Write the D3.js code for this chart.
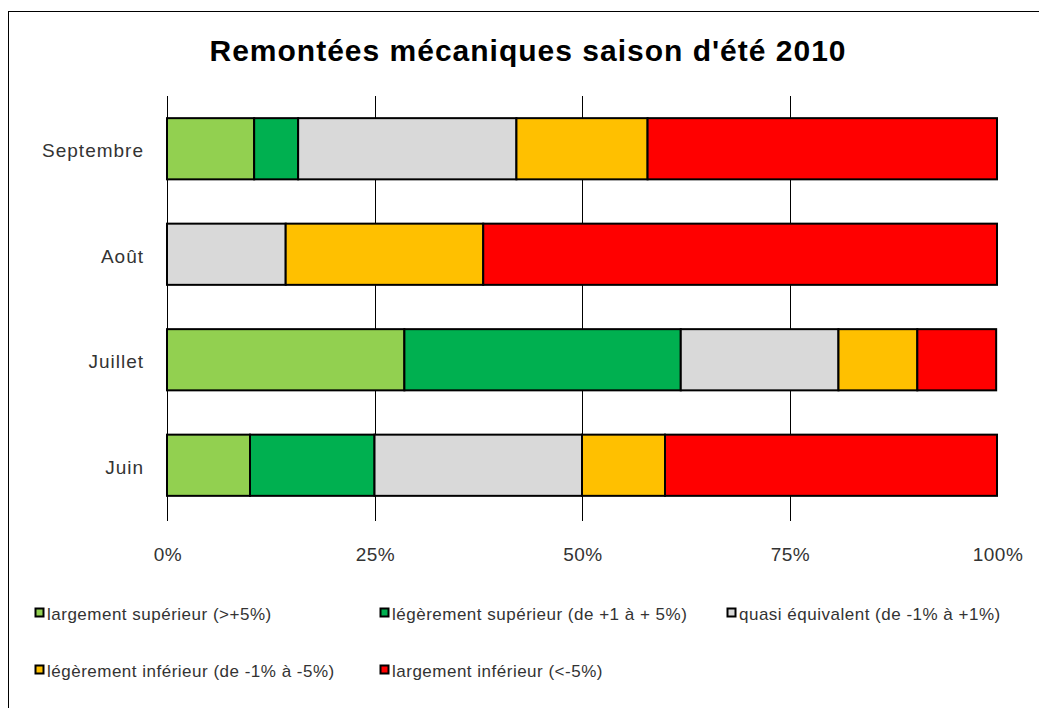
<!DOCTYPE html>
<html>
<head>
<meta charset="utf-8">
<script src="https://cdn.jsdelivr.net/npm/d3@7"></script>
<style>
  body { margin: 0; background: #fff; }
  svg { display: block; font-family: "Liberation Sans", Arial, sans-serif; }
</style>
</head>
<body>
<svg width="1039" height="708"></svg>
<script>
// months, top to bottom
const months = ["Septembre", "Août", "Juillet", "Juin"];
const categories = [
  "largement supérieur (>+5%)",
  "légèrement supérieur (de +1 à + 5%)",
  "quasi équivalent (de -1% à +1%)",
  "légèrement inférieur (de -1% à -5%)",
  "largement inférieur (<-5%)"
];
// share of lifts per category (%), same order as categories
const septembre = [10.5, 5.3, 26.3, 15.8, 42.1];
const aout = [0, 0, 14.3, 23.8, 61.9];
const juillet = [28.6, 33.3, 19.0, 9.5, 9.5];
const juin = [10, 15, 25, 10, 40];
const tickValues = [0, 25, 50, 75, 100];
const colors = ["#92d050", "#00b050", "#d9d9d9", "#ffc000", "#ff0000"];

const rows = [septembre, aout, juillet, juin].map((vals, i) => {
  const r = { month: months[i] };
  categories.forEach((c, j) => r[c] = vals[j]);
  return r;
});

const svg = d3.select("svg");

// outer frame (right/bottom cut off like the original screenshot)
svg.append("rect")
  .attr("x", 8.5).attr("y", 11.5)
  .attr("width", 1100).attr("height", 800)
  .attr("fill", "none").attr("stroke", "#000").attr("stroke-width", 1);

svg.append("text")
  .attr("x", 528).attr("y", 61)
  .attr("text-anchor", "middle")
  .attr("font-size", 30).attr("font-weight", "bold")
  .attr("letter-spacing", 1)
  .attr("fill", "#000")
  .text("Remontées mécaniques saison d'été 2010");

const x = d3.scaleLinear().domain([0, 100]).range([167, 997]);
const y = d3.scaleBand().domain(months).range([96, 518]).paddingInner(0.42).paddingOuter(0.21);

// gridlines (extend below plot as tick marks)
svg.append("g").selectAll("line")
  .data(tickValues)
  .enter().append("line")
  .attr("x1", d => Math.round(x(d)) + 0.5).attr("x2", d => Math.round(x(d)) + 0.5)
  .attr("y1", 96).attr("y2", 521)
  .attr("stroke", "#000").attr("stroke-width", 1)
  .attr("opacity", d => d === 100 ? 0 : 1);

const stack = d3.stack().keys(categories);
const series = stack(rows);

svg.append("g").selectAll("g")
  .data(series)
  .enter().append("g")
  .attr("fill", (d, i) => colors[i])
  .selectAll("rect")
  .data(d => d.filter(p => p[1] - p[0] > 0))
  .enter().append("rect")
  .attr("x", d => x(d[0]))
  .attr("y", d => y(d.data.month))
  .attr("width", d => x(d[1]) - x(d[0]))
  .attr("height", y.bandwidth())
  .attr("stroke", "#000").attr("stroke-width", 2);

// month labels
svg.append("g").selectAll("text")
  .data(months)
  .enter().append("text")
  .attr("x", 144)
  .attr("y", d => y(d) + y.bandwidth() / 2 + 2)
  .attr("dy", "0.35em")
  .attr("text-anchor", "end")
  .attr("font-size", 19).attr("letter-spacing", 1).attr("fill", "#333")
  .text(d => d);

// percentage labels
svg.append("g").selectAll("text")
  .data(tickValues)
  .enter().append("text")
  .attr("x", d => x(d) + 1)
  .attr("y", 561)
  .attr("text-anchor", "middle")
  .attr("font-size", 19).attr("letter-spacing", 0.5).attr("fill", "#333")
  .text(d => d + "%");

// legend
const legendPos = [[35, 614], [380, 614], [727, 614], [35, 671], [380, 671]];
const legend = svg.append("g").selectAll("g")
  .data(categories)
  .enter().append("g")
  .attr("transform", (d, i) => `translate(${legendPos[i][0]},${legendPos[i][1]})`);

legend.append("rect")
  .attr("x", 0.5).attr("y", -5.5)
  .attr("width", 8).attr("height", 8)
  .attr("fill", (d, i) => colors[i])
  .attr("stroke", "#000").attr("stroke-width", 2);

legend.append("text")
  .attr("x", 12).attr("y", 0)
  .attr("dy", "0.35em")
  .attr("font-size", 17).attr("letter-spacing", 0.5).attr("fill", "#333")
  .text(d => d);
</script>
</body>
</html>
